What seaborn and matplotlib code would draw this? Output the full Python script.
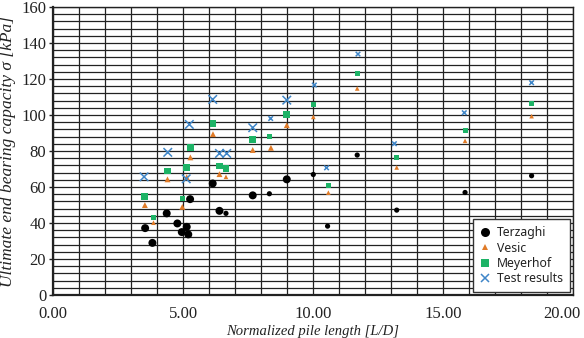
import pandas as pd
import seaborn as sns
import matplotlib.pyplot as plt
import matplotlib.transforms as mtransforms
from matplotlib.lines import Line2D
from matplotlib.ticker import MultipleLocator

# normalized pile length L/D and capacity (kPa), "A"/"B" = two test series
terz_x = [3.54, 3.82, 4.37, 4.78, 4.95, 5.14, 5.20, 5.27, 6.14, 6.40, 6.65, 7.68, 8.32, 8.99, 10.01, 10.56, 11.70, 13.22, 15.85, 18.41]
terz_y = [37.2, 29.0, 45.4, 39.8, 35.0, 37.9, 33.7, 53.3, 62.0, 46.8, 45.4, 55.4, 56.3, 64.3, 67.0, 38.3, 77.8, 47.2, 57.0, 66.3]
terz_src = ['A'] * 10 + ['B', 'A', 'B', 'A'] + ['B'] * 6

vesic_x = [3.53, 3.86, 4.40, 4.97, 5.14, 5.28, 6.15, 6.40, 6.65, 7.68, 8.38, 8.99, 10.01, 10.59, 11.70, 13.22, 15.85, 18.41]
vesic_y = [50.0, 40.2, 64.3, 49.0, 65.5, 76.5, 89.4, 67.2, 65.7, 80.6, 81.8, 94.4, 99.0, 56.9, 114.8, 70.9, 85.7, 99.4]
vesic_src = ['A', 'B', 'A', 'A', 'A', 'A', 'A', 'A', 'B', 'A', 'A', 'A'] + ['B'] * 6

meyer_x = [3.53, 3.86, 4.40, 4.97, 5.14, 5.28, 6.15, 6.40, 6.65, 7.68, 8.32, 8.99, 10.01, 10.59, 11.70, 13.22, 15.85, 18.41]
meyer_y = [54.6, 43.0, 68.9, 53.7, 70.7, 81.8, 95.4, 71.7, 70.4, 86.5, 88.0, 100.4, 106.0, 60.7, 123.1, 76.5, 91.3, 106.5]
meyer_src = ['A', 'B', 'A', 'B', 'A', 'A', 'A', 'A', 'A', 'A', 'B', 'A'] + ['B'] * 6

test_x = [3.50, 4.41, 5.12, 5.24, 6.14, 6.40, 6.68, 7.68, 8.37, 8.99, 10.05, 10.52, 11.73, 13.13, 15.82, 18.41]
test_y = [65.7, 79.3, 64.6, 94.8, 108.7, 78.7, 78.7, 93.0, 98.1, 108.3, 116.7, 70.7, 133.9, 84.1, 101.3, 118.0]
test_src = ['A'] * 8 + ['B', 'A'] + ['B'] * 6

methods = ['Terzaghi', 'Vesic', 'Meyerhof', 'Test results']
x_ticks = [0, 5, 10, 15, 20]
x_ticklabels = ['0.00', '5.00', '10.00', '15.00', '20.00']

frames = []
for name, xs, ys, src in [('Terzaghi', terz_x, terz_y, terz_src),
                          ('Vesic', vesic_x, vesic_y, vesic_src),
                          ('Meyerhof', meyer_x, meyer_y, meyer_src),
                          ('Test results', test_x, test_y, test_src)]:
    frames.append(pd.DataFrame({'ld': xs, 'q': ys, 'method': name, 'src': src}))
df = pd.concat(frames, ignore_index=True)

colors = {'Terzaghi': 'black', 'Vesic': '#e07b28', 'Meyerhof': '#1db366', 'Test results': '#3f86c8'}
markers = {'Terzaghi': 'o', 'Vesic': '^', 'Meyerhof': 's', 'Test results': 'x'}
sizes = {'Terzaghi': {'A': 33, 'B': 14},
         'Vesic': {'A': 18, 'B': 11},
         'Meyerhof': {'A': 24, 'B': 13},
         'Test results': {'A': 38, 'B': 11}}

sns.set_theme(style="white")
fig, ax = plt.subplots(figsize=(5.84, 3.38), dpi=100)
fig.subplots_adjust(left=0.091, right=0.981, top=0.979, bottom=0.127)

for m in methods:
    sub = df[df['method'] == m]
    kw = dict(linewidth=1.1) if m == 'Test results' else dict(linewidth=0)
    sns.scatterplot(data=sub, x='ld', y='q', size='src', sizes=sizes[m],
                    color=colors[m], marker=markers[m], legend=False, ax=ax,
                    zorder=3, **kw)

ax.set_xlim(0, 20)
ax.set_ylim(0, 160)
ax.xaxis.set_major_locator(MultipleLocator(5))
ax.xaxis.set_minor_locator(MultipleLocator(1))
ax.yaxis.set_major_locator(MultipleLocator(20))
ax.yaxis.set_minor_locator(MultipleLocator(4))
ax.grid(which='both', color='#222222', linewidth=0.9)
ax.set_axisbelow(True)
for s in ax.spines.values():
    s.set_color('#222222')
    s.set_linewidth(1.0)
ax.spines['left'].set_linewidth(1.6)
ax.spines['bottom'].set_linewidth(1.6)

ax.set_xticks(x_ticks)
ax.set_xticklabels(x_ticklabels)
ax.tick_params(axis='both', which='major', labelfontfamily='Liberation Serif',
               labelsize=12, labelcolor='#222222')
ax.tick_params(axis='x', which='major', length=0, pad=8)
ax.tick_params(axis='y', which='major', length=3, width=1, color='#222222',
               direction='out', left=True, pad=2)
ax.tick_params(which='minor', length=0)

# keep the last x tick label inside the image
last = ax.get_xticklabels()[-1]
last.set_transform(last.get_transform() +
                   mtransforms.ScaledTranslation(-8 / 72, 0, fig.dpi_scale_trans))

ax.set_xlabel('Normalized pile length [L/D]', family='Liberation Serif', style='italic',
              fontsize=10.5, color='#222222', labelpad=2)
ax.set_ylabel('Ultimate end bearing capacity σ [kPa]', family='Liberation Serif', style='italic',
              fontsize=12.5, color='#222222', labelpad=4)

handles = [Line2D([], [], linestyle='none', marker=markers[m], color=colors[m],
                  markersize={'Terzaghi': 6.5, 'Vesic': 5, 'Meyerhof': 5.5, 'Test results': 6}[m],
                  markeredgewidth=1.1 if m == 'Test results' else 0)
           for m in methods]
leg = ax.legend(handles, methods, loc='lower right', bbox_to_anchor=(0.994, 0.01),
                borderaxespad=0, prop={'family': 'Noto Sans', 'size': 8.8},
                frameon=True, fancybox=False, handlelength=0.8, handletextpad=0.6,
                labelspacing=0.2, borderpad=0.55)
leg.get_frame().set_edgecolor('#333333')
leg.get_frame().set_linewidth(1.0)
leg.get_frame().set_alpha(1)
for t in leg.get_texts():
    t.set_color('#222222')

fig.savefig('out.png', dpi=100)
